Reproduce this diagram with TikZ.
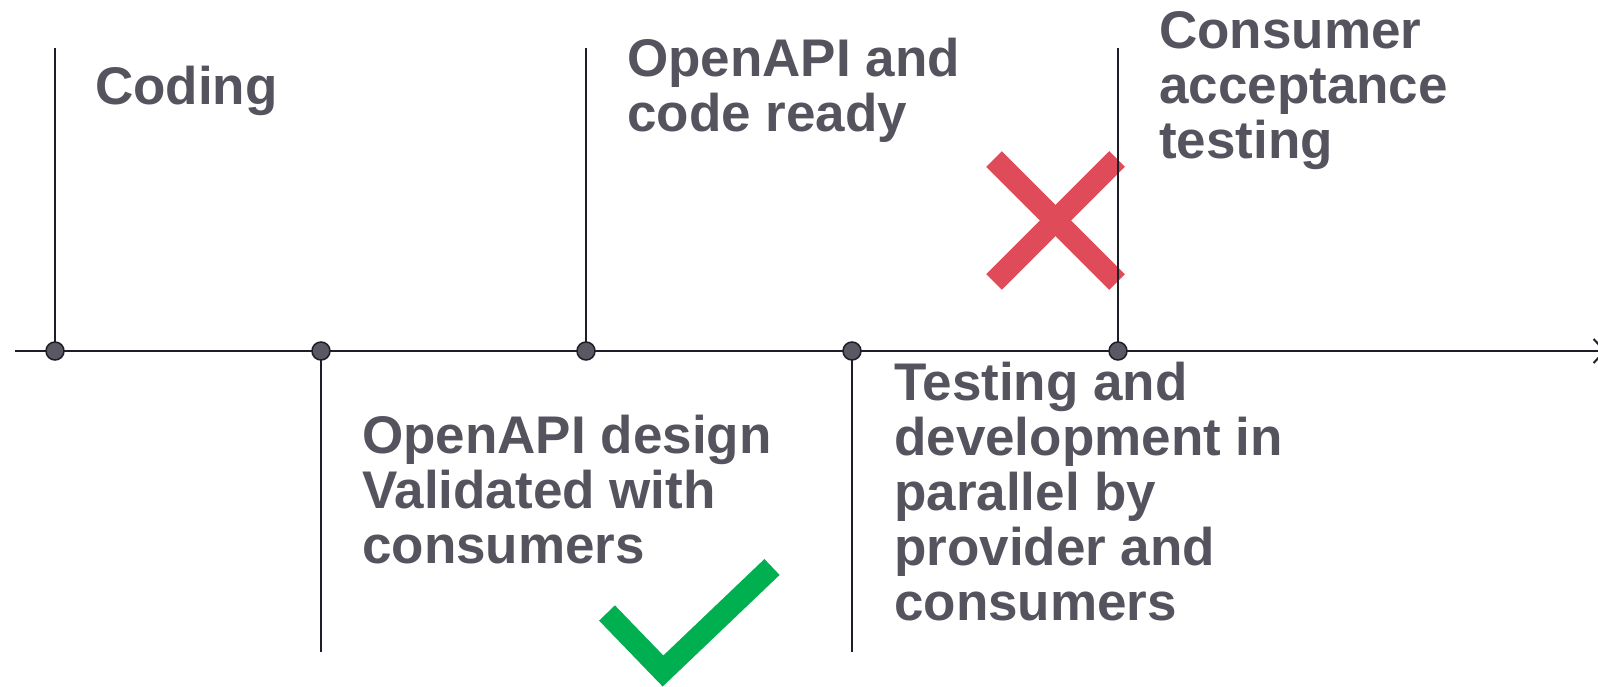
\documentclass[tikz,border=0pt]{standalone}
\usepackage{fontspec}
\setmainfont{Liberation Sans}
\usetikzlibrary{arrows.meta}
\definecolor{txt}{HTML}{55535E}
\definecolor{ln}{HTML}{1E1E28}
\definecolor{dotc}{HTML}{5A5862}
\definecolor{okgreen}{HTML}{00B050}
\definecolor{nored}{HTML}{E04B59}
\tikzset{
  lbl/.style={anchor=base west, inner sep=0pt, align=left, text=txt,
    font=\bfseries\fontsize{53}{55}\selectfont},
  tick/.style={draw=ln, line width=2pt},
  axisline/.style={draw=ln, line width=2pt, -{Straight Barb[length=11pt,width=24pt,line width=2pt]}},
  tdot/.style={circle, minimum size=18pt, inner sep=0pt, fill=dotc, draw=ln, line width=1.5pt},
  bigstroke/.style={line width=22pt}
}
\begin{document}
\begin{tikzpicture}[x=1pt,y=-1pt]
\useasboundingbox (0,0) rectangle (1598,687);
% marks
\draw[bigstroke, draw=nored] (994,159) coordinate (xa) -- (1117,282) coordinate (xb);
\draw[bigstroke, draw=nored] (1117,159) coordinate (xc) -- (994,282) coordinate (xd);
\draw[bigstroke, draw=okgreen, line join=miter] (607,613) coordinate (ca) -- (663,671) coordinate (cb) -- (772,567) coordinate (cc);
% axis
\coordinate (a0) at (15,351);
\coordinate (aend) at (1606,351);
\coordinate (c1) at (55,351);
\coordinate (c2) at (321,351);
\coordinate (c3) at (586,351);
\coordinate (c4) at (852,351);
\coordinate (c5) at (1118,351);
\coordinate (t1) at (55,48);
\coordinate (t3) at (586,48);
\coordinate (t5) at (1118,48);
\coordinate (b2) at (321,652);
\coordinate (b4) at (852,652);
\draw[tick] (t1) -- (c1);
\draw[tick] (t3) -- (c3);
\draw[tick] (t5) -- (c5);
\draw[tick] (c2) -- (b2);
\draw[tick] (c4) -- (b4);
\draw[axisline] (a0) -- (aend);
\node[tdot] (d1) at (c1) {};
\node[tdot] (d2) at (c2) {};
\node[tdot] (d3) at (c3) {};
\node[tdot] (d4) at (c4) {};
\node[tdot] (d5) at (c5) {};
% labels (anchor = baseline of last line)
\node[lbl] (coding) at (95,105) {Coding};
\node[lbl] (ready) at (627,132) {OpenAPI and\\code ready};
\node[lbl] (accept) at (1159,159) {Consumer\\acceptance\\testing};
\node[lbl] (design) at (362,563) {OpenAPI design\\Validated with\\consumers};
\node[lbl] (parallel) at (894,620) {Testing and\\development in\\parallel by\\provider and\\consumers};
\end{tikzpicture}
\end{document}
